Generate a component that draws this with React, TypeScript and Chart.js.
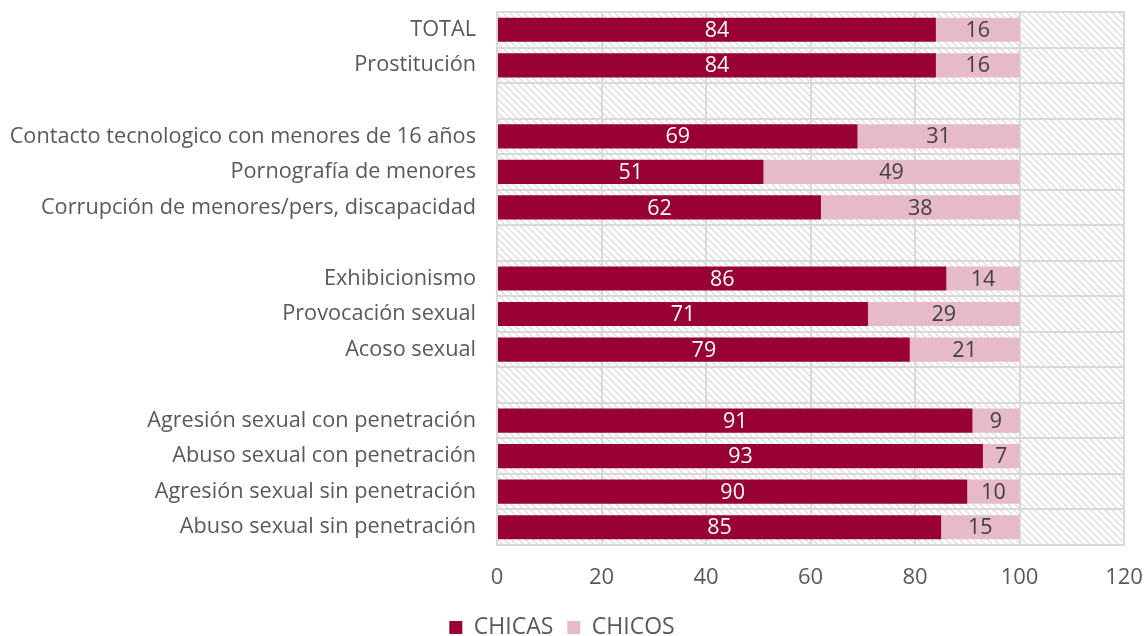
import React, { useEffect, useRef } from "react";
import { Chart, registerables } from "chart.js";

Chart.register(...registerables);

const categories = [
  "TOTAL",
  "Prostitución",
  " ",
  "Contacto tecnologico con menores de 16 años",
  "Pornografía de menores",
  "Corrupción de menores/pers, discapacidad",
  "  ",
  "Exhibicionismo",
  "Provocación sexual",
  "Acoso sexual",
  "   ",
  "Agresión sexual con penetración",
  "Abuso sexual con penetración",
  "Agresión sexual sin penetración",
  "Abuso sexual sin penetración",
];

const chicas = [84, 84, null, 69, 51, 62, null, 86, 71, 79, null, 91, 93, 90, 85];
const chicos = [16, 16, null, 31, 49, 38, null, 14, 29, 21, null, 9, 7, 10, 15];

const xTicks = [0, 20, 40, 60, 80, 100, 120];

const FONT = "'Open Sans'";
const TEXT = "#595959";
const GRID = "#d9d9d9";

function makePattern(): CanvasPattern | string {
  const c = document.createElement("canvas");
  c.width = 7;
  c.height = 7;
  const g = c.getContext("2d");
  if (!g) return "#f4f4f4";
  g.fillStyle = "#ffffff";
  g.fillRect(0, 0, 7, 7);
  g.strokeStyle = "#d6d6d6";
  g.lineWidth = 1.1;
  g.beginPath();
  g.moveTo(-1, -1);
  g.lineTo(8, 8);
  g.moveTo(-1, 6);
  g.lineTo(1, 8);
  g.moveTo(6, -1);
  g.lineTo(8, 1);
  g.stroke();
  const p = g.createPattern(c, "repeat");
  return p || "#f4f4f4";
}

const bgPlugin = {
  id: "hatchBg",
  beforeLayout(chart: any) {
    const lg = chart.legend;
    if (lg && !lg.__patched) {
      const orig = lg.fit;
      lg.fit = function (this: any) {
        orig.call(this);
        this.height = 34;
      };
      lg.__patched = true;
    }
  },
  beforeDraw(chart: any) {
    const { ctx, chartArea } = chart;
    if (!chartArea) return;
    ctx.save();
    ctx.fillStyle = makePattern();
    ctx.fillRect(chartArea.left, chartArea.top, chartArea.right - chartArea.left, chartArea.bottom - chartArea.top);
    ctx.restore();
  },
};

const labelPlugin = {
  id: "barLabels",
  afterDatasetsDraw(chart: any) {
    const { ctx } = chart;
    ctx.save();
    ctx.font = `21.5px ${FONT}`;
    ctx.textAlign = "center";
    ctx.textBaseline = "middle";
    chart.data.datasets.forEach((ds: any, di: number) => {
      const meta = chart.getDatasetMeta(di);
      meta.data.forEach((el: any, i: number) => {
        const v = ds.data[i];
        if (v === null || v === undefined) return;
        const { x, y, base } = el.getProps(["x", "y", "base"], true);
        ctx.fillStyle = di === 0 ? "#ffffff" : "#404040";
        ctx.fillText(String(v), (x + base) / 2, y + 1);
      });
    });
    ctx.restore();
  },
};

export default function App() {
  const ref = useRef<HTMLCanvasElement | null>(null);

  useEffect(() => {
    document.body.style.margin = "0";
    const canvas = ref.current;
    if (!canvas) return;
    const chart = new Chart(canvas, {
      type: "bar",
      data: {
        labels: categories,
        datasets: [
          {
            label: "CHICAS",
            data: chicas,
            backgroundColor: "#990033",
            barPercentage: 0.68,
            categoryPercentage: 1,
          },
          {
            label: "CHICOS",
            data: chicos,
            backgroundColor: "#e6bacb",
            barPercentage: 0.68,
            categoryPercentage: 1,
          },
        ],
      },
      options: {
        indexAxis: "y",
        responsive: false,
        animation: false,
        layout: { padding: { top: 12, right: 21, left: 0, bottom: 0 } },
        scales: {
          x: {
            stacked: true,
            min: 0,
            max: 120,
            afterBuildTicks(scale: any) {
              scale.ticks = xTicks.map((v) => ({ value: v }));
            },
            afterFit(scale: any) {
              scale.height = 57;
              scale.paddingLeft = 0;
              scale.paddingRight = 0;
            },
            ticks: {
              color: TEXT,
              font: { family: FONT, size: 22 },
              padding: 20,
            },
            grid: { color: GRID, lineWidth: 2, drawTicks: false },
            border: { color: GRID, width: 2 },
          },
          y: {
            stacked: true,
            afterFit(scale: any) {
              scale.width = 497;
              scale.paddingTop = 0;
              scale.paddingBottom = 0;
            },
            ticks: {
              color: TEXT,
              font: { family: FONT, size: 21.7 },
              padding: 21,
              autoSkip: false,
            },
            grid: { color: GRID, lineWidth: 2, offset: true, drawTicks: false },
            border: { color: GRID, width: 2 },
          },
        },
        plugins: {
          legend: {
            position: "bottom",
            labels: {
              color: TEXT,
              font: { family: FONT, size: 23, lineHeight: 1 },
              boxWidth: 13,
              boxHeight: 13,
              padding: 14,
            },
          },
          tooltip: { enabled: false },
        },
      },
      plugins: [bgPlugin, labelPlugin],
    });
    return () => chart.destroy();
  }, []);

  return (
    <div style={{ width: 1145, height: 636 }}>
      <canvas ref={ref} width={1145} height={636} style={{ display: "block" }} />
    </div>
  );
}
